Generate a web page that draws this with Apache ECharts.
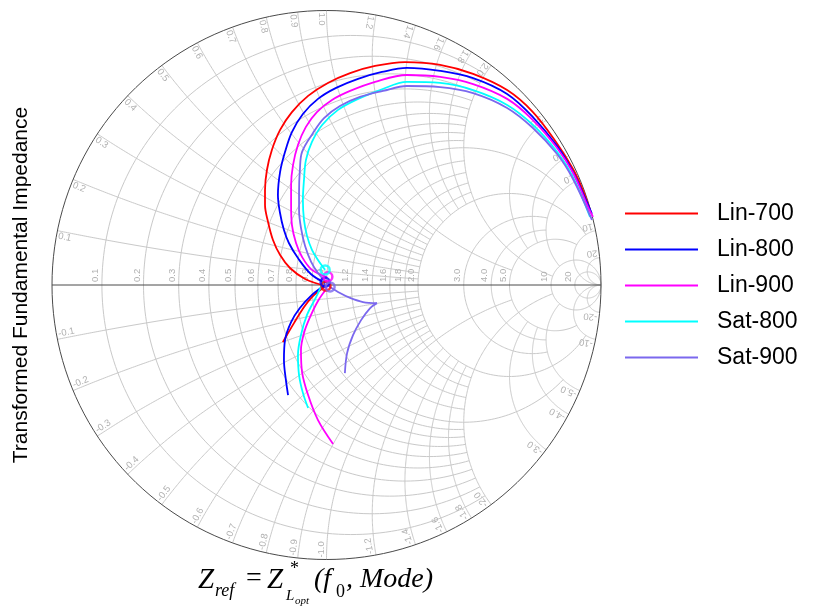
<!DOCTYPE html>
<html><head><meta charset="utf-8">
<script src="https://cdn.jsdelivr.net/npm/echarts@6/dist/echarts.min.js"></script>
<style>html,body{margin:0;padding:0;background:#fff}#c{width:814px;height:607px}</style>
</head><body><div id="c"></div>
<script>
// Smith chart grid values (used for both resistance circles and reactance arcs)
const gridValues = [0.1,0.2,0.3,0.4,0.5,0.6,0.7,0.8,0.9,1.0,1.2,1.4,1.6,1.8,2.0,3,4,5,10,20];
// each grid line is drawn up to this value of the other family
const gridLimits = [2,2,2,2,2,2,2,2,2,5,2,2,2,2,10,5,5,10,Infinity,Infinity];
const gridLabels = ['0.1','0.2','0.3','0.4','0.5','0.6','0.7','0.8','0.9','1.0','1.2','1.4','1.6','1.8','2.0','3.0','4.0','5.0','10','20'];

const seriesNames = ['Lin-700','Lin-800','Lin-900','Sat-800','Sat-900'];
const seriesColors = ['#ff0000','#0000ff','#ff00ff','#00ffff','#7b68ee'];

// reflection-coefficient trajectories [Re(Gamma), Im(Gamma)]
const lin700Upper = [[-0.002,-0.004],[-0.078,0.022],[-0.133,0.062],[-0.169,0.109],[-0.195,0.164],[-0.213,0.230],[-0.224,0.291],[-0.224,0.346],[-0.217,0.419],[-0.199,0.492],[-0.169,0.565],[-0.126,0.630],[-0.067,0.689],[0.005,0.736],[0.086,0.772],[0.177,0.798],[0.286,0.812],[0.414,0.802],[0.534,0.769],[0.658,0.710],[0.752,0.630],[0.836,0.521],[0.898,0.423],[0.934,0.346],[0.960,0.273]];
const lin700Lower = [[-0.002,-0.004],[-0.053,-0.044],[-0.089,-0.091],[-0.118,-0.138],[-0.144,-0.182],[-0.159,-0.208]];
const lin800Upper = [[-0.005,0.007],[-0.057,0.040],[-0.104,0.098],[-0.137,0.153],[-0.155,0.200],[-0.170,0.266],[-0.177,0.328],[-0.169,0.412],[-0.151,0.485],[-0.126,0.557],[-0.086,0.623],[-0.031,0.678],[0.035,0.718],[0.115,0.751],[0.202,0.776],[0.293,0.791],[0.414,0.780],[0.534,0.754],[0.658,0.696],[0.752,0.612],[0.840,0.506],[0.898,0.412],[0.945,0.310],[0.967,0.259]];
const lin800Lower = [[-0.005,0.000],[-0.053,-0.036],[-0.097,-0.084],[-0.129,-0.135],[-0.151,-0.200],[-0.155,-0.273],[-0.148,-0.346],[-0.140,-0.401]];
const lin900Upper = [[0.002,0.029],[-0.053,0.055],[-0.089,0.102],[-0.111,0.153],[-0.126,0.219],[-0.129,0.291],[-0.129,0.364],[-0.122,0.437],[-0.104,0.510],[-0.075,0.576],[-0.035,0.630],[0.020,0.674],[0.086,0.707],[0.177,0.740],[0.293,0.765],[0.414,0.758],[0.534,0.732],[0.658,0.678],[0.752,0.601],[0.840,0.499],[0.898,0.408],[0.953,0.284],[0.971,0.248]];
const lin900Lower = [[0.002,-0.011],[-0.031,-0.058],[-0.060,-0.117],[-0.082,-0.175],[-0.093,-0.237],[-0.089,-0.317],[-0.067,-0.401],[-0.031,-0.492],[0.024,-0.579]];
const sat800Upper = [[-0.005,0.055],[-0.031,0.091],[-0.053,0.128],[-0.071,0.179],[-0.082,0.237],[-0.086,0.310],[-0.082,0.383],[-0.075,0.455],[-0.053,0.521],[-0.016,0.583],[0.042,0.638],[0.115,0.678],[0.195,0.710],[0.293,0.740],[0.414,0.736],[0.534,0.710],[0.658,0.656],[0.752,0.583],[0.840,0.485],[0.898,0.393],[0.960,0.248]];
const sat800Lower = [[-0.009,0.018],[-0.038,-0.044],[-0.071,-0.109],[-0.093,-0.182],[-0.104,-0.255],[-0.100,-0.328],[-0.086,-0.393],[-0.067,-0.448]];
const sat900Upper = [[0.013,-0.007],[-0.031,0.044],[-0.056,0.084],[-0.078,0.142],[-0.093,0.208],[-0.100,0.273],[-0.100,0.339],[-0.097,0.419],[-0.089,0.485],[-0.049,0.554],[-0.009,0.608],[0.049,0.652],[0.122,0.685],[0.206,0.707],[0.293,0.725],[0.414,0.721],[0.534,0.699],[0.658,0.645],[0.752,0.572],[0.840,0.477],[0.898,0.386],[0.967,0.237]];
const sat900LowerA = [[0.013,-0.007],[0.049,-0.029],[0.086,-0.047],[0.133,-0.062],[0.184,-0.066]];
const sat900LowerB = [[0.184,-0.066],[0.159,-0.084],[0.126,-0.128],[0.097,-0.182],[0.075,-0.248],[0.067,-0.321]];
const markerPoints = [[-0.002,-0.004],[-0.005,0.010],[0.005,0.030],[-0.005,0.055],[0.013,-0.007]];

const curves = [
  [lin700Upper, lin700Lower],
  [lin800Upper, lin800Lower],
  [lin900Upper, lin900Lower],
  [sat800Upper, sat800Lower],
  [sat900Upper, sat900LowerA, sat900LowerB]
];

function rPoints(r, L) {
  const a = r + 1, c = r / (r + 1), rho = 1 / (r + 1);
  const span = isFinite(L) ? 2 * Math.atan(L / a) : Math.PI;
  const pts = [], n = 180;
  for (let k = 0; k <= n; k++) {
    const al = Math.PI - span + 2 * span * k / n;
    pts.push([c + rho * Math.cos(al), rho * Math.sin(al)]);
  }
  return pts;
}
function xPoints(x, L) {
  const b0 = Math.atan(x), b1 = isFinite(L) ? Math.atan(x / (L + 1)) : 0;
  const pts = [], n = 180;
  for (let k = 0; k <= n; k++) {
    const be = b0 + (b1 - b0) * k / n;
    const ang = -Math.PI / 2 - 2 * be;
    pts.push([1 + Math.cos(ang) / x, 1 / x + Math.sin(ang) / x]);
  }
  return pts;
}

const gridItems = [];
gridValues.forEach((v, i) => {
  gridItems.push({ fam: 'r', v: v, L: gridLimits[i] });
  gridItems.push({ fam: 'x', v: v, L: gridLimits[i] });
  gridItems.push({ fam: 'x', v: -v, L: gridLimits[i] });
});
const frameItems = [{ fam: 'r', v: 0, L: Infinity }, { fam: 'axis' }];

const labelItems = [];
gridValues.forEach((v, i) => {
  labelItems.push({ kind: 'r', v: v, text: gridLabels[i] });
  labelItems.push({ kind: 'x', v: v, text: gridLabels[i] });
  labelItems.push({ kind: 'x', v: -v, text: '-' + gridLabels[i] });
});

const labelFont = '9.5px "Liberation Sans", Arial, sans-serif';
const labelColor = '#b0b0b0';

const series = [];
series.push({
  type: 'custom', name: 'grid', silent: true, z: 1,
  dimensions: ['x', 'y', 'i'], encode: { x: 0, y: 1 },
  data: gridItems.map((d, i) => [0, 0, i]),
  renderItem: function (params, api) {
    const it = gridItems[params.dataIndex];
    const pts = (it.fam === 'r' ? rPoints(it.v, it.L) : xPoints(it.v, it.L)).map(p => api.coord(p));
    return { type: 'polyline', shape: { points: pts }, style: { stroke: '#c9c9c9', lineWidth: 1, fill: 'none' } };
  }
});
series.push({
  type: 'custom', name: 'frame', silent: true, z: 2,
  dimensions: ['x', 'y', 'i'], encode: { x: 0, y: 1 },
  data: frameItems.map((d, i) => [0, 0, i]),
  renderItem: function (params, api) {
    const it = frameItems[params.dataIndex];
    const pts = it.fam === 'axis' ? [api.coord([-1, 0]), api.coord([1, 0])] : rPoints(0, Infinity).map(p => api.coord(p));
    return { type: 'polyline', shape: { points: pts }, style: { stroke: '#4a4a4a', lineWidth: 1, fill: 'none' } };
  }
});
series.push({
  type: 'custom', name: 'labels', silent: true, z: 3,
  dimensions: ['x', 'y', 'i'], encode: { x: 0, y: 1 },
  data: labelItems.map((d, i) => [0, 0, i]),
  renderItem: function (params, api) {
    const it = labelItems[params.dataIndex];
    if (it.kind === 'r') {
      const p = api.coord([(it.v - 1) / (it.v + 1), 0]);
      return { type: 'text', x: p[0] - 1.5, y: p[1] - 3, rotation: Math.PI / 2,
        style: { text: it.text, fill: labelColor, font: labelFont, align: 'left', verticalAlign: 'bottom', textAlign: 'left', textVerticalAlign: 'bottom' } };
    }
    const th = Math.sign(it.v) * (Math.PI - 2 * Math.atan(Math.abs(it.v)));
    const p = api.coord([0.993 * Math.cos(th), 0.993 * Math.sin(th)]);
    const va = it.v > 0 ? 'top' : 'bottom';
    return { type: 'text', x: p[0], y: p[1], rotation: th + Math.PI,
      style: { text: it.text, fill: labelColor, font: labelFont, align: 'left', verticalAlign: va, textAlign: 'left', textVerticalAlign: va } };
  }
});

curves.forEach((parts, si) => {
  parts.forEach(pts => {
    series.push({
      type: 'line', name: seriesNames[si], data: pts, showSymbol: false, smooth: 0.35,
      lineStyle: { color: seriesColors[si], width: 1.8 }, itemStyle: { color: seriesColors[si] },
      z: 5 + si, silent: true
    });
  });
});
seriesNames.forEach((nm, si) => {
  series.push({
    type: 'scatter', name: nm, data: [markerPoints[si]], symbol: 'circle', symbolSize: 9,
    itemStyle: { color: 'rgba(255,255,255,0)', borderColor: seriesColors[si], borderWidth: 2.5 },
    z: 12 + si, silent: true
  });
});

const serif = '"Liberation Serif", "Times New Roman", serif';
function ftxt(x, y, text, font) {
  return { type: 'text', x: x, y: y, z: 50, silent: true,
    style: { text: text, font: font, fill: '#000', verticalAlign: 'middle', textVerticalAlign: 'middle', align: 'left', textAlign: 'left' } };
}

const chart = echarts.init(document.getElementById('c'), null, { renderer: 'canvas' });
chart.setOption({
  animation: false,
  backgroundColor: '#ffffff',
  grid: { left: 52, top: 10.5, width: 549, height: 549 },
  xAxis: { type: 'value', min: -1, max: 1, show: false },
  yAxis: {
    type: 'value', min: -1, max: 1,
    axisLine: { show: false }, axisTick: { show: false }, axisLabel: { show: false }, splitLine: { show: false },
    name: 'Transformed Fundamental Impedance', nameLocation: 'middle', nameRotate: 90, nameGap: 20,
    nameTextStyle: { fontSize: 21, fontFamily: '"Liberation Sans", Arial, sans-serif', color: '#000' }
  },
  legend: {
    data: seriesNames, orient: 'vertical', left: 620, top: 197, itemWidth: 73, itemHeight: 2, itemGap: 13,
    icon: 'rect', selectedMode: false,
    textStyle: { fontSize: 23, fontFamily: '"Liberation Sans", Arial, sans-serif', color: '#000', padding: [0, 0, 0, 14] }
  },
  graphic: [
    ftxt(198, 580, 'Z', 'italic 29px ' + serif),
    ftxt(215, 591, 'ref', 'italic 18px ' + serif),
    ftxt(246, 579, '=', '28px ' + serif),
    ftxt(267, 580, 'Z', 'italic 29px ' + serif),
    ftxt(290, 569, '*', '18px ' + serif),
    ftxt(286, 596, 'L', 'italic 15px ' + serif),
    ftxt(295, 601, 'opt', 'italic 11px ' + serif),
    ftxt(314, 580, '(f', 'italic 28px ' + serif),
    ftxt(336, 592, '0', '18px ' + serif),
    ftxt(346, 580, ', Mode)', 'italic 28px ' + serif)
  ],
  series: series
});
</script>
</body></html>
